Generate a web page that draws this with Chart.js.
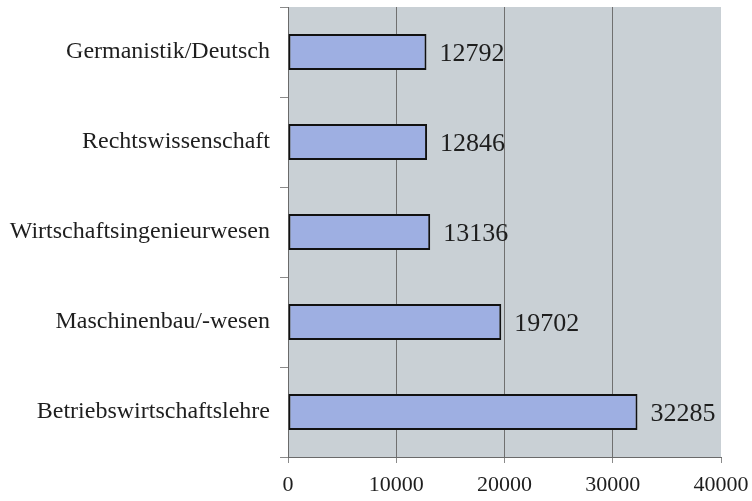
<!DOCTYPE html>
<html>
<head>
<meta charset="utf-8">
<script src="https://cdn.jsdelivr.net/npm/chart.js@4"></script>
<style>
	html, body { margin: 0; padding: 0; background: #ffffff; }
	#wrap { width: 752px; height: 501px; }
</style>
</head>
<body>
<div id="wrap"><canvas id="myChart" width="752" height="501"></canvas></div>
<script>
let subjects = [
	"Germanistik/Deutsch",
	"Rechtswissenschaft",
	"Wirtschaftsingenieurwesen",
	"Maschinenbau/-wesen",
	"Betriebswirtschaftslehre",
];
let students = [12792, 12846, 13136, 19702, 32285];
let xTicks = [0, 10000, 20000, 30000, 40000];

const serif = "'Liberation Serif', 'Times New Roman', serif";

// grey plot background
let plotBackground = {
	id: "plotBackground",
	beforeDraw(chart) {
		let { ctx, chartArea } = chart;
		ctx.save();
		ctx.fillStyle = "#c9d0d5";
		ctx.fillRect(chartArea.left, chartArea.top, chartArea.right - chartArea.left, chartArea.bottom - chartArea.top);
		ctx.restore();
	},
};

// numbers next to each bar
let valueLabels = {
	id: "valueLabels",
	afterDatasetsDraw(chart) {
		let { ctx } = chart;
		let meta = chart.getDatasetMeta(0);
		ctx.save();
		ctx.font = "26px " + serif;
		ctx.fillStyle = "#1e1e1e";
		ctx.textBaseline = "middle";
		ctx.textAlign = "left";
		meta.data.forEach((bar, i) => {
			ctx.fillText(String(students[i]), bar.x + 13, bar.y + 2);
		});
		ctx.restore();
	},
};

var ctx = document.getElementById("myChart").getContext("2d");
var chart = new Chart(ctx, {
	type: "bar",
	data: {
		labels: subjects,
		datasets: [
			{
				data: students,
				backgroundColor: "#9eafe2",
				borderColor: "#111111",
				borderWidth: 2,
				borderSkipped: false,
				barPercentage: 0.4,
				categoryPercentage: 1,
			},
		],
	},
	options: {
		indexAxis: "y",
		responsive: false,
		animation: false,
		layout: { padding: { top: 7, right: 31, left: 0, bottom: 0 } },
		plugins: {
			legend: { display: false },
			tooltip: { enabled: false },
		},
		scales: {
			x: {
				min: 0,
				max: 40000,
				afterBuildTicks(scale) {
					scale.ticks = xTicks.map((v) => ({ value: v }));
				},
				afterFit(scale) {
					scale.height = 44;
					scale.paddingLeft = 0;
					scale.paddingRight = 0;
				},
				grid: {
					color: (c) => (c.tick && (c.tick.value === 0 || c.tick.value === 40000) ? "rgba(0,0,0,0)" : "#707070"),
					lineWidth: 1,
					tickColor: "#8a8a8a",
					tickLength: 6,
				},
				border: { color: "#6a6a6a", width: 1 },
				ticks: {
					color: "#1e1e1e",
					font: { family: serif, size: 22 },
					padding: 9,
					maxRotation: 0,
					callback: (v) => String(v),
				},
			},
			y: {
				afterFit(scale) {
					scale.width = 288;
					scale.paddingTop = 0;
					scale.paddingBottom = 0;
				},
				grid: {
					drawOnChartArea: false,
					tickColor: "#8a8a8a",
					tickLength: 8,
				},
				border: { color: "#6a6a6a", width: 1 },
				ticks: {
					color: "#1e1e1e",
					font: { family: serif, size: 24 },
					padding: 10,
				},
			},
		},
	},
	plugins: [plotBackground, valueLabels],
});
</script>
</body>
</html>
